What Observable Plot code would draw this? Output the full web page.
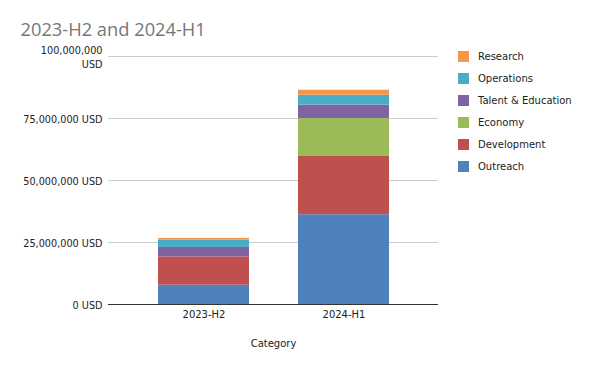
<!DOCTYPE html>
<html>
<head>
<meta charset="utf-8">
<script src="https://cdn.jsdelivr.net/npm/d3@7"></script>
<script src="https://cdn.jsdelivr.net/npm/@observablehq/plot@0.6"></script>
<style>
  html, body { margin: 0; padding: 0; background: #fff; }
  #wrap { position: relative; width: 600px; height: 371px; overflow: hidden; }
  #legend { position: absolute; left: 458px; top: 50px; font-family: "DejaVu Sans", sans-serif; font-size: 10px; color: #222; }
  .row { display: flex; align-items: center; height: 12px; margin-bottom: 10px; white-space: nowrap; }
  .sw { width: 11px; height: 11px; margin-right: 9px; flex: none; }
</style>
</head>
<body>
<div id="wrap"></div>
<script>
const title = "2023-H2 and 2024-H1";
const categories = ["2023-H2", "2024-H1"];
const seriesNames = ["Outreach", "Development", "Economy", "Talent & Education", "Operations", "Research"];
const seriesColors = ["#4F81BD", "#C0504D", "#9BBB59", "#8064A2", "#4BACC6", "#F79646"];
const outreach = [7800000, 36200000];
const development = [11400000, 23500000];
const economy = [0, 15300000];
const talent = [3800000, 5400000];
const operations = [3000000, 4000000];
const research = [650000, 2000000];
const yTicks = [0, 25000000, 50000000, 75000000, 100000000];
const xLabel = "Category";

const seriesValues = [outreach, development, economy, talent, operations, research];
const data = [];
categories.forEach((c, i) => {
  seriesNames.forEach((s, j) => data.push({category: c, series: s, value: seriesValues[j][i]}));
});

const fmt = d3.format(",");
const chart = Plot.plot({
  width: 600,
  height: 371,
  marginLeft: 108,
  marginRight: 162,
  marginTop: 56,
  marginBottom: 67,
  style: {fontFamily: "DejaVu Sans, sans-serif", fontSize: "10px", color: "#333", background: "#fff"},
  x: {domain: categories, padding: 0.35, label: null},
  y: {domain: [0, 100000000], label: null},
  color: {domain: seriesNames, range: seriesColors},
  marks: [
    Plot.gridY(yTicks, {stroke: "#cccccc", strokeOpacity: 1}),
    Plot.barY(data, {x: "category", y: "value", fill: "series", order: seriesNames}),
    Plot.ruleY([0], {stroke: "#333"}),
    Plot.axisY(yTicks, {tickSize: 0, tickPadding: 6, fontSize: "9.7px", fill: "#222", lineHeight: 1.45,
      tickFormat: d => d >= 100000000 ? fmt(d) + "\nUSD" : fmt(d) + " USD", label: null}),
    Plot.axisX({tickSize: 0, tickPadding: 6, fill: "#222", label: null}),
    Plot.text([xLabel], {frameAnchor: "bottom", dy: 42, fill: "#222", fontSize: "10px"}),
    Plot.text([title], {frameAnchor: "top-left", dx: -88, dy: -21, lineAnchor: "bottom", textAnchor: "start",
      fontSize: "18.3px", fontFamily: "Open Sans, sans-serif", fill: "#767676"})
  ]
});
const wrap = document.getElementById("wrap");
wrap.appendChild(chart);

const legend = document.createElement("div");
legend.id = "legend";
for (let j = seriesNames.length - 1; j >= 0; j--) {
  const row = document.createElement("div");
  row.className = "row";
  const sw = document.createElement("div");
  sw.className = "sw";
  sw.style.background = seriesColors[j];
  const t = document.createElement("span");
  t.textContent = seriesNames[j];
  row.appendChild(sw);
  row.appendChild(t);
  legend.appendChild(row);
}
wrap.appendChild(legend);
</script>
</body>
</html>
